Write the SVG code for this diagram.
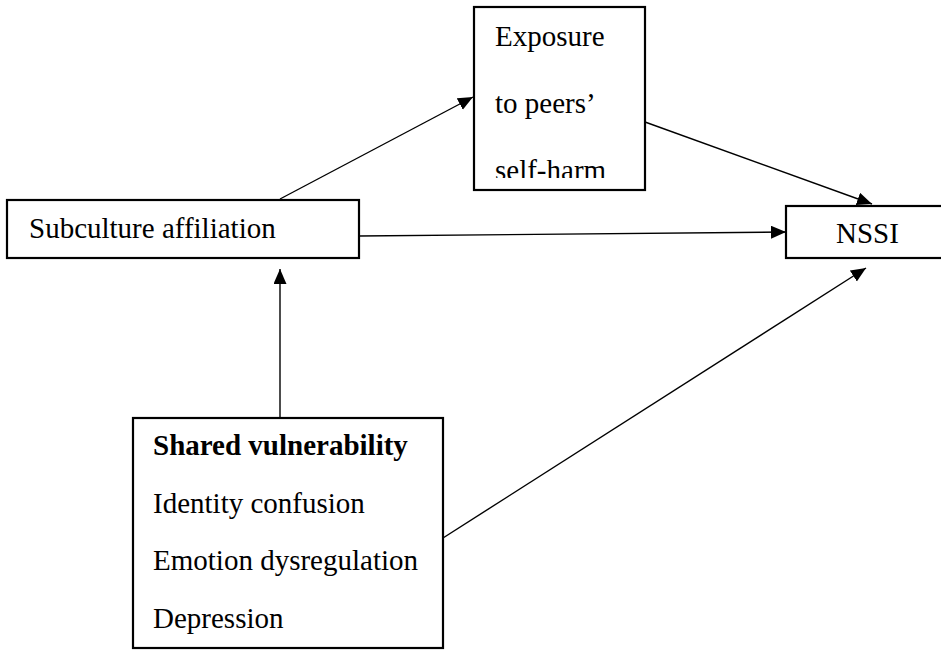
<svg xmlns="http://www.w3.org/2000/svg" width="941" height="650" viewBox="0 0 941 650">
<style>
.box{fill:#fff;stroke:#000;stroke-width:2.2}
.t{font-family:"Liberation Serif","Times New Roman",serif;font-size:29px;fill:#000}
.b{font-weight:bold}
.c{stroke:#000;stroke-width:1.4;fill:none;marker-end:url(#ah)}
</style>
<defs>
<marker id="ah" markerUnits="userSpaceOnUse" markerWidth="16" markerHeight="14" refX="15" refY="6.5" orient="auto">
<path d="M0,0 L15,6.5 L0,13 z" fill="#000"/>
</marker>
<clipPath id="clipE"><rect x="474" y="7" width="171" height="171"/></clipPath>
</defs>
<rect width="941" height="650" fill="#fff"/>
<g id="connectors">
<line class="c" x1="280" y1="199" x2="473" y2="97"/>
<line class="c" x1="645" y1="122" x2="872" y2="204"/>
<line class="c" x1="359" y1="236" x2="786" y2="232"/>
<line class="c" x1="280" y1="418" x2="280" y2="269"/>
<line class="c" x1="443" y1="538" x2="866" y2="268"/>
</g>
<g id="exposure">
<rect class="box" x="474" y="7" width="171" height="183"/>
<g clip-path="url(#clipE)">
<text class="t" x="495" y="46">Exposure</text>
<text class="t" x="495" y="113">to peers’</text>
<text class="t" x="495" y="180">self-harm</text>
</g>
</g>
<g id="subculture">
<rect class="box" x="7" y="200" width="352" height="58"/>
<text class="t" x="29" y="238">Subculture affiliation</text>
</g>
<g id="nssi">
<rect class="box" x="786" y="206" width="160" height="52"/>
<text class="t" x="836" y="243">NSSI</text>
</g>
<g id="shared">
<rect class="box" x="133" y="418" width="310" height="230"/>
<text class="t b" x="153" y="455">Shared vulnerability</text>
<text class="t" x="153" y="513">Identity confusion</text>
<text class="t" x="153" y="570">Emotion dysregulation</text>
<text class="t" x="153" y="628">Depression</text>
</g>
</svg>
